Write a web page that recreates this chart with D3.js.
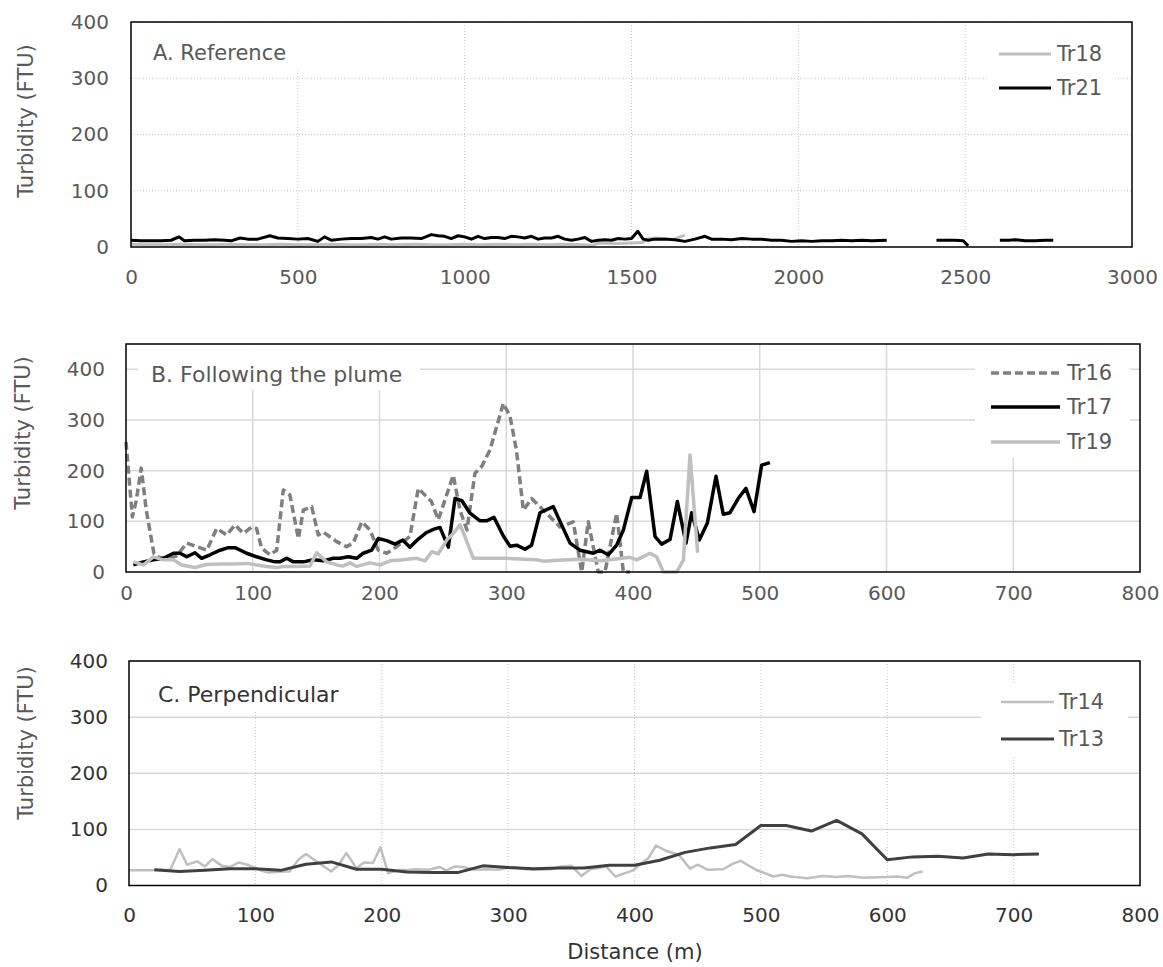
<!DOCTYPE html>
<html><head><meta charset="utf-8">
<script src="https://cdn.jsdelivr.net/npm/d3@7"></script>
<style>
body{margin:0;background:#fff}
svg{display:block}
text{font-family:"DejaVu Sans",Verdana,sans-serif}
</style>
</head><body>
<svg id="chart" width="1163" height="967"></svg>
<script>
// ---------------- DATA ----------------
const yTicks = [0, 100, 200, 300, 400];
const xTicksA = [0, 500, 1000, 1500, 2000, 2500, 3000];
const xTicksBC = [0, 100, 200, 300, 400, 500, 600, 700, 800];

// Panel A (Reference) [distance m, turbidity FTU]; null = gap
const tr21 = [[0,12],[30,11],[60,11],[90,11],[120,12],[144,18],[160,11],[190,12],[220,12],[250,13],[280,12],[300,11],[327,16],[350,14],[380,14],[416,20],[440,16],[470,15],[500,14],[530,15],[560,10],[580,18],[600,12],[630,14],[660,15],[690,15],[720,17],[740,14],[760,18],[780,14],[810,16],[840,16],[870,15],[900,22],[920,20],[940,19],[960,15],[980,20],[1000,18],[1020,14],[1040,19],[1060,15],[1080,17],[1100,17],[1120,15],[1140,19],[1160,18],[1180,16],[1200,19],[1220,14],[1240,16],[1260,16],[1280,19],[1300,14],[1320,12],[1340,14],[1360,17],[1380,10],[1400,12],[1420,13],[1440,12],[1460,15],[1480,14],[1500,15],[1519,28],[1535,14],[1550,12],[1570,14],[1600,14],[1630,13],[1660,10],[1690,14],[1720,19],[1740,14],[1770,14],[1800,13],[1830,15],[1860,14],[1890,14],[1920,12],[1950,12],[1980,10],[2010,11],[2040,10],[2070,11],[2100,11],[2130,12],[2160,11],[2190,12],[2220,11],[2265,12],[2300,null],[2414,12],[2440,12],[2470,12],[2494,11],[2509,2],[2550,null],[2604,12],[2630,12],[2650,13],[2680,11],[2710,11],[2740,12],[2764,12]];
const tr18 = [[0,5],[50,4],[100,4],[150,5],[200,4],[250,4],[300,5],[350,4],[400,4],[450,5],[500,4],[550,4],[600,5],[650,4],[700,4],[750,5],[800,4],[850,5],[900,4],[950,4],[1000,5],[1050,4],[1100,5],[1150,4],[1200,5],[1250,4],[1300,5],[1350,4],[1385,3],[1400,7],[1450,6],[1500,7],[1534,8],[1546,14],[1570,16],[1600,15],[1625,13],[1645,18],[1660,21]];

// Panel B (Following the plume)
const tr16 = [[0,257],[5,109],[8,140],[12,205],[16,122],[22,37],[25,30],[29.5,27],[35,28],[40,32],[47.9,57],[55.8,50],[63.7,43],[71.6,86],[79.4,73],[86,93],[92.6,76],[99.2,89],[103,86],[107,47],[113.6,34],[118.9,43],[124.1,162],[129.3,152],[136,66],[139.9,122],[146.5,129],[151.7,73],[155.6,79],[166.2,60],[174,50],[179.3,57],[186,99],[192.5,83],[199,43],[205.7,37],[213.6,50],[224,70],[230.6,165],[241,139],[246.4,103],[258.2,191],[263.5,122],[269,83],[275.3,195],[280.6,208],[287.2,241],[297.7,333],[303,307],[308,241],[313.5,122],[320,145],[326.6,129],[334.5,109],[342.4,89],[352.9,99],[359.5,0],[364.7,99],[372.6,0],[377.9,0],[387.1,116],[392.4,0],[397.6,0]];
const tr17 = [[5.8,14],[13.7,20],[21.6,24],[29.5,27],[37.4,37],[42.6,37],[47.9,30],[54.4,38],[59.7,27],[66.3,34],[74.2,43],[80.7,48],[86,48],[95.2,37],[103,30],[111,24],[117.6,20],[121.5,20],[126.8,27],[132,20],[139.9,20],[147.8,24],[155.6,22],[163.5,27],[168.8,27],[175.4,30],[181.9,27],[187.2,37],[193.8,43],[199,66],[205.7,62],[212.2,55],[218.3,63],[224,49],[230.6,65],[237.2,78],[242.5,84],[247.7,88],[254.3,49],[259.6,145],[264.9,141],[271.4,116],[279.3,101],[284.5,101],[290.3,108],[297.7,71],[303,51],[308.2,53],[314.8,45],[320,53],[326.6,117],[337.1,129],[343.7,93],[350.3,57],[358.2,43],[368.7,37],[373.9,43],[380.5,34],[387.1,53],[392.4,83],[399,147],[405.6,147],[410.8,199],[417.4,70],[422.6,55],[429.2,64],[435,139],[441.8,57],[446.3,117],[452.3,63],[458.6,96],[465.5,189],[471.2,114],[476.5,117],[483,145],[489.1,165],[495.5,119],[501.5,211],[508,216]];
const tr19 = [[5.8,20],[13.7,14],[21.6,30],[29.5,24],[37.4,24],[44,14],[54.4,9],[63.7,15],[74.2,16],[84.7,16],[95.2,17],[103,14],[111,11],[118.9,9],[124.1,11],[134.6,11],[145.2,12],[150.4,38],[158.3,20],[166.2,14],[171.4,12],[176.7,18],[182,11],[192.5,18],[200.4,14],[208.3,22],[218.8,24],[229.3,27],[235.9,22],[241.2,40],[246.4,36],[253,63],[258.2,76],[263.5,93],[267.4,70],[274,27],[287.2,27],[300,27],[324,24],[330,21],[340,23],[358.2,25],[374,22],[385,25],[397.6,29],[402.9,24],[413.4,37],[418.6,30],[424,0],[434.5,0],[439.8,24],[445,231],[451,38]];

// Panel C (Perpendicular)
const tr14 = [[0,27],[19,27],[32.7,28],[40,65],[46,37],[54,43],[60,34],[66,47],[73.6,35],[80,33],[87,41],[95,36],[104,27],[110,23],[122,25],[127,25],[134,46],[140,56],[149,42],[160,25],[166,37],[172,58],[180,31],[186,41],[193,40],[199,68],[205,22],[213,27],[222,28],[228,29],[237,28],[246,33],[251,27],[258,34],[264,33],[274,28],[283,29],[292,28],[304,33],[313,29],[322,28],[334,29],[342,34],[350,35],[358,17],[365,29],[377.5,34],[385,16],[398.8,27],[411,49],[417,71],[426,61],[435,55],[444,30],[450,37],[458,28],[470,29],[478,39],[484,44],[496,28],[510,16],[517,19],[523,16],[537,13],[549,17],[560,15],[569,17],[581,14],[599,15],[608,16],[616,14],[622,22],[628,25]];
const tr13 = [[20,28],[40,25],[60,27],[80,30],[100,30],[120,27],[140,38],[160,42],[180,29],[200,29],[220,24],[240,23],[260,23],[280,35],[300,32],[320,30],[340,31],[360,31],[380,36],[400,36],[420,45],[440,59],[460,67],[480,73],[500,107],[520,107],[540,97],[560,116],[580,92],[600,46],[620,51],[640,52],[660,49],[680,56],[700,55],[720,56]];

// ---------------- DRAW ----------------
const svg = d3.select("#chart");
const TXT = "#595959";

function panel(o) {
  const x = d3.scaleLinear().domain([0, o.xmax]).range([o.x0, o.x1]);
  const y = d3.scaleLinear().domain([0, o.ymax]).range([o.y1, o.y0]);
  const g = svg.append("g");

  // gridlines
  g.selectAll(".hg").data(yTicks.filter(t => t > 0 && t <= o.ymax)).join("line")
    .attr("x1", o.x0).attr("x2", o.x1).attr("y1", d => y(d)).attr("y2", d => y(d))
    .attr("stroke", o.hGridColor).attr("stroke-width", o.hGridW)
    .attr("stroke-dasharray", o.hDash);
  g.selectAll(".vg").data(o.xTicks.filter(t => t > 0 && t < o.xmax)).join("line")
    .attr("y1", o.y0).attr("y2", o.y1).attr("x1", d => x(d)).attr("x2", d => x(d))
    .attr("stroke", o.vGridColor).attr("stroke-width", o.vGridW)
    .attr("stroke-dasharray", o.vDash);

  // title & legend background boxes
  g.append("rect").attr("x", o.titleBox[0]).attr("y", o.titleBox[1])
    .attr("width", o.titleBox[2]).attr("height", o.titleBox[3]).attr("fill", "#fff");
  g.append("rect").attr("x", o.legBox[0]).attr("y", o.legBox[1])
    .attr("width", o.legBox[2]).attr("height", o.legBox[3]).attr("fill", "#fff");

  // series
  const line = d3.line().defined(d => d[1] !== null).x(d => x(d[0])).y(d => y(d[1]));
  o.series.forEach(s => {
    g.append("path").datum(s.data).attr("d", line)
      .attr("fill", "none").attr("stroke", s.color).attr("stroke-width", s.w)
      .attr("stroke-dasharray", s.dash || null)
      .attr("stroke-linejoin", "round");
  });

  // frame
  g.append("rect").attr("x", o.x0).attr("y", o.y0)
    .attr("width", o.x1 - o.x0).attr("height", o.y1 - o.y0)
    .attr("fill", "none").attr("stroke", o.frameColor).attr("stroke-width", 1.5);

  // axes
  const ax = g.append("g").attr("transform", `translate(0,${o.y1})`)
    .call(d3.axisBottom(x).tickValues(o.xTicks).tickSize(0).tickPadding(o.xPad).tickFormat(d3.format("d")));
  ax.select(".domain").remove();
  ax.selectAll("text").attr("font-size", 20).attr("fill", o.tickColor)
    .attr("font-family", "DejaVu Sans");
  const ay = g.append("g").attr("transform", `translate(${o.x0},0)`)
    .call(d3.axisLeft(y).tickValues(yTicks.filter(t => t <= o.ymax)).tickSize(0).tickPadding(o.yPad).tickFormat(d3.format("d")));
  ay.select(".domain").remove();
  ay.selectAll("text").attr("font-size", 20).attr("fill", o.tickColor)
    .attr("font-family", "DejaVu Sans");

  // y title
  g.append("text").attr("transform", `translate(${o.yTitle[0]},${o.yTitle[1]}) rotate(-90)`)
    .attr("text-anchor", "middle").attr("dominant-baseline", "central")
    .attr("font-size", 21).attr("fill", TXT).text("Turbidity (FTU)");

  // panel title
  g.append("text").attr("x", o.title[0]).attr("y", o.title[1])
    .attr("font-size", o.titleSize).attr("fill", o.titleColor).text(o.titleText);

  // legend
  o.series.filter(s => s.legend !== false).forEach((s, i) => {
    const ly = o.leg.ys[i];
    g.append("line").attr("x1", o.leg.x1).attr("x2", o.leg.x2).attr("y1", ly).attr("y2", ly)
      .attr("stroke", s.color).attr("stroke-width", s.w).attr("stroke-dasharray", s.dash || null);
    g.append("text").attr("x", o.leg.tx).attr("y", ly).attr("dominant-baseline", "central")
      .attr("font-size", 21).attr("fill", TXT).text(s.name);
  });
}

panel({
  x0: 131, x1: 1132, y0: 22, y1: 247, xmax: 3000, ymax: 400, xTicks: xTicksA,
  hGridColor: "#c8c8c8", hGridW: 1, hDash: "1,2",
  vGridColor: "#c8c8c8", vGridW: 1, vDash: "1,2",
  titleBox: [140, 23, 170, 45], legBox: [987, 23, 128, 77],
  frameColor: "#000", tickColor: TXT, xPad: 23, yPad: 22,
  yTitle: [26, 121], title: [153, 60], titleSize: 21, titleColor: TXT, titleText: "A. Reference",
  leg: { x1: 999, x2: 1051, tx: 1057, ys: [54, 88] },
  series: [
    { name: "Tr18", data: tr18, color: "#bfbfbf", w: 3 },
    { name: "Tr21", data: tr21, color: "#000", w: 3 }
  ]
});

panel({
  x0: 126, x1: 1140, y0: 344, y1: 572, xmax: 800, ymax: 450, xTicks: xTicksBC,
  hGridColor: "#d9d9d9", hGridW: 1.5, hDash: null,
  vGridColor: "#d9d9d9", vGridW: 1.5, vDash: null,
  titleBox: [138, 345, 282, 45], legBox: [975, 345, 155, 113],
  frameColor: "#000", tickColor: TXT, xPad: 14, yPad: 21,
  yTitle: [23, 433], title: [151, 382], titleSize: 22, titleColor: TXT, titleText: "B. Following the plume",
  leg: { x1: 991, x2: 1060, tx: 1067, ys: [373, 407, 442] },
  series: [
    { name: "Tr16", data: tr16, color: "#7f7f7f", w: 3.5, dash: "8,4" },
    { name: "Tr17", data: tr17, color: "#000", w: 3.5 },
    { name: "Tr19", data: tr19, color: "#bfbfbf", w: 3.5 }
  ]
});

panel({
  x0: 129, x1: 1140, y0: 661, y1: 885.5, xmax: 800, ymax: 400, xTicks: xTicksBC,
  hGridColor: "#d9d9d9", hGridW: 1.5, hDash: null,
  vGridColor: "#c8c8c8", vGridW: 1, vDash: "1,2",
  titleBox: [145, 662, 215, 50], legBox: [981, 683, 147, 74],
  frameColor: "#000", tickColor: "#333", xPad: 22, yPad: 21,
  yTitle: [26, 743], title: [158, 702], titleSize: 22, titleColor: "#333", titleText: "C. Perpendicular",
  leg: { x1: 1001, x2: 1054, tx: 1059, ys: [702, 739] },
  series: [
    { name: "Tr14", data: tr14, color: "#bfbfbf", w: 2.5 },
    { name: "Tr13", data: tr13, color: "#404040", w: 3 }
  ]
});

svg.append("text").attr("x", 635).attr("y", 952).attr("text-anchor", "middle")
  .attr("dominant-baseline", "central").attr("font-size", 21).attr("fill", "#333")
  .text("Distance (m)");
</script>
</body></html>
